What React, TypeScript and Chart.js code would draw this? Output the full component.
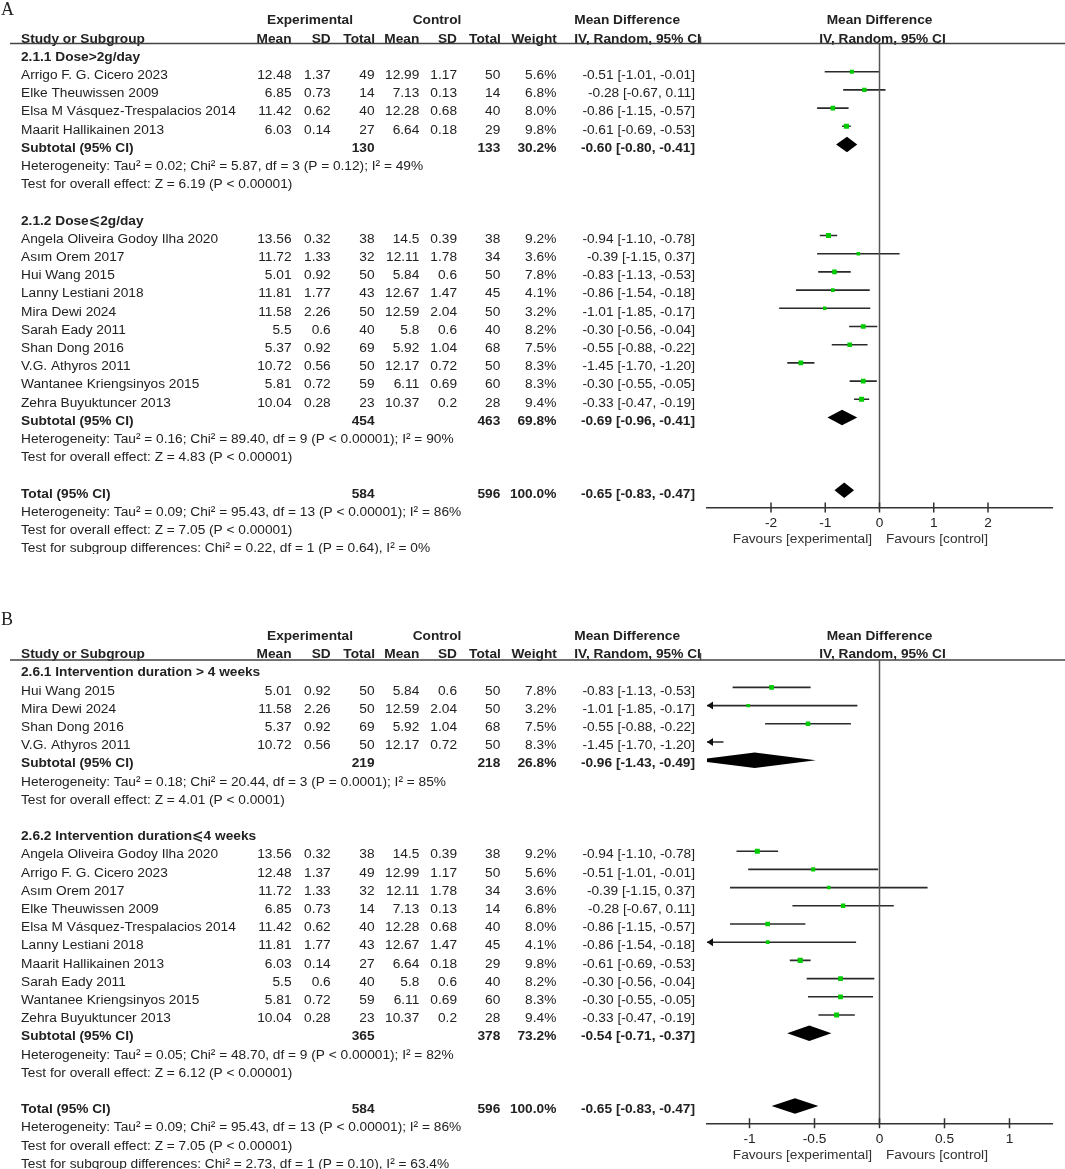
import React, { useEffect, useRef } from 'react';
import { Chart, registerables } from 'chart.js';

Chart.register(...registerables);

// ---------------- Study-level data ----------------
const studyNames = [
  'Angela Oliveira Godoy Ilha 2020',
  'Arrigo F. G. Cicero 2023',
  'Asım Orem 2017',
  'Elke Theuwissen 2009',
  'Elsa M Vásquez-Trespalacios 2014',
  'Hui Wang 2015',
  'Lanny Lestiani 2018',
  'Maarit Hallikainen 2013',
  'Mira Dewi 2024',
  'Sarah Eady 2011',
  'Shan Dong 2016',
  'V.G. Athyros 2011',
  'Wantanee Kriengsinyos 2015',
  'Zehra Buyuktuncer 2013',
];
const expMean = [13.56, 12.48, 11.72, 6.85, 11.42, 5.01, 11.81, 6.03, 11.58, 5.5, 5.37, 10.72, 5.81, 10.04];
const expSD = [0.32, 1.37, 1.33, 0.73, 0.62, 0.92, 1.77, 0.14, 2.26, 0.6, 0.92, 0.56, 0.72, 0.28];
const expTotal = [38, 49, 32, 14, 40, 50, 43, 27, 50, 40, 69, 50, 59, 23];
const ctlMean = [14.5, 12.99, 12.11, 7.13, 12.28, 5.84, 12.67, 6.64, 12.59, 5.8, 5.92, 12.17, 6.11, 10.37];
const ctlSD = [0.39, 1.17, 1.78, 0.13, 0.68, 0.6, 1.47, 0.18, 2.04, 0.6, 1.04, 0.72, 0.69, 0.2];
const ctlTotal = [38, 50, 34, 14, 40, 50, 45, 29, 50, 40, 68, 50, 60, 28];
const weightPct = [9.2, 5.6, 3.6, 6.8, 8.0, 7.8, 4.1, 9.8, 3.2, 8.2, 7.5, 8.3, 8.3, 9.4];
const meanDiff = [-0.94, -0.51, -0.39, -0.28, -0.86, -0.83, -0.86, -0.61, -1.01, -0.30, -0.55, -1.45, -0.30, -0.33];
const ciLower = [-1.10, -1.01, -1.15, -0.67, -1.15, -1.13, -1.54, -0.69, -1.85, -0.56, -0.88, -1.70, -0.55, -0.47];
const ciUpper = [-0.78, -0.01, 0.37, 0.11, -0.57, -0.53, -0.18, -0.53, -0.17, -0.04, -0.22, -1.20, -0.05, -0.19];

// ---------------- Panel A (dose) ----------------
const groupTitlesA = ['2.1.1 Dose>2g/day', '2.1.2 Dose⩽2g/day'];
const groupMembersA = [[1, 3, 4, 7], [0, 2, 5, 6, 8, 9, 10, 11, 12, 13]];
const subExpTotalA = [130, 454];
const subCtlTotalA = [133, 463];
const subWeightA = [30.2, 69.8];
const subMDA = [-0.60, -0.69];
const subLowerA = [-0.80, -0.96];
const subUpperA = [-0.41, -0.41];
const hetA = [
  'Heterogeneity: Tau² = 0.02; Chi² = 5.87, df = 3 (P = 0.12); I² = 49%',
  'Heterogeneity: Tau² = 0.16; Chi² = 89.40, df = 9 (P < 0.00001); I² = 90%',
];
const effectA = ['Test for overall effect: Z = 6.19 (P < 0.00001)', 'Test for overall effect: Z = 4.83 (P < 0.00001)'];
const subgroupTestA = 'Test for subgroup differences: Chi² = 0.22, df = 1 (P = 0.64), I² = 0%';
const tickValuesA = [-2, -1, 0, 1, 2];

// ---------------- Panel B (duration) ----------------
const groupTitlesB = ['2.6.1 Intervention duration > 4 weeks', '2.6.2 Intervention duration⩽4 weeks'];
const groupMembersB = [[5, 8, 10, 11], [0, 1, 2, 3, 4, 6, 7, 9, 12, 13]];
const subExpTotalB = [219, 365];
const subCtlTotalB = [218, 378];
const subWeightB = [26.8, 73.2];
const subMDB = [-0.96, -0.54];
const subLowerB = [-1.43, -0.71];
const subUpperB = [-0.49, -0.37];
const hetB = [
  'Heterogeneity: Tau² = 0.18; Chi² = 20.44, df = 3 (P = 0.0001); I² = 85%',
  'Heterogeneity: Tau² = 0.05; Chi² = 48.70, df = 9 (P < 0.00001); I² = 82%',
];
const effectB = ['Test for overall effect: Z = 4.01 (P < 0.0001)', 'Test for overall effect: Z = 6.12 (P < 0.00001)'];
const subgroupTestB = 'Test for subgroup differences: Chi² = 2.73, df = 1 (P = 0.10), I² = 63.4%';
const tickValuesB = [-1, -0.5, 0, 0.5, 1];

// ---------------- Overall ----------------
const overallExpTotal = 584;
const overallCtlTotal = 596;
const overallWeight = 100.0;
const overallMD = -0.65;
const overallLower = -0.83;
const overallUpper = -0.47;
const overallHet = 'Heterogeneity: Tau² = 0.09; Chi² = 95.43, df = 13 (P < 0.00001); I² = 86%';
const overallEffect = 'Test for overall effect: Z = 7.05 (P < 0.00001)';
const favoursLeft = 'Favours [experimental]';
const favoursRight = 'Favours [control]';

// ---------------- Styling / layout ----------------
const W = 1065;
const ROW_H = 18.2;
const TEXT_DY = 3.5;
const AXIS_BOX = 10;
const FONT = '"Liberation Sans", Arial, "DejaVu Sans", sans-serif';
const FS = 13.7;
const TXT = '#222';
const COL = {
  expMean: 291.5, expSD: 330.7, expN: 374.5, ctlMean: 419.3, ctlSD: 457,
  ctlN: 500.3, weight: 556.3, ci: 695, mdHead: 574.3,
};
const PLOT_LEFT = 707;
const PLOT_RIGHT = 1052;

type Row =
  | { kind: 'group'; text: string }
  | { kind: 'study'; idx: number }
  | { kind: 'pooled'; label: string; n1: number; n2: number; w: number; md: number; lo: number; hi: number }
  | { kind: 'note'; text: string }
  | { kind: 'blank' };

interface PanelCfg {
  letter: string;
  height: number;
  letterY: number;
  headerY: number;
  row0Y: number;
  axisY: number;
  xMin: number;
  xMax: number;
  ticks: number[];
  titles: string[];
  members: number[][];
  subExp: number[];
  subCtl: number[];
  subW: number[];
  subMD: number[];
  subLo: number[];
  subHi: number[];
  het: string[];
  effect: string[];
  subgroup: string;
}

const panelA: PanelCfg = {
  letter: 'A', height: 554, letterY: 10, headerY: 43.5, row0Y: 53.5, axisY: 507.5,
  xMin: -3.18, xMax: 3.18, ticks: tickValuesA,
  titles: groupTitlesA, members: groupMembersA, subExp: subExpTotalA, subCtl: subCtlTotalA,
  subW: subWeightA, subMD: subMDA, subLo: subLowerA, subHi: subUpperA, het: hetA, effect: effectA,
  subgroup: subgroupTestA,
};
const panelB: PanelCfg = {
  letter: 'B', height: 615, letterY: 66, headerY: 106, row0Y: 115.2, axisY: 569.3,
  xMin: -1.327, xMax: 1.327, ticks: tickValuesB,
  titles: groupTitlesB, members: groupMembersB, subExp: subExpTotalB, subCtl: subCtlTotalB,
  subW: subWeightB, subMD: subMDB, subLo: subLowerB, subHi: subUpperB, het: hetB, effect: effectB,
  subgroup: subgroupTestB,
};

function buildRows(p: PanelCfg): Row[] {
  const rows: Row[] = [];
  p.titles.forEach((t, g) => {
    if (g > 0) rows.push({ kind: 'blank' });
    rows.push({ kind: 'group', text: t });
    p.members[g].forEach((idx) => rows.push({ kind: 'study', idx }));
    rows.push({
      kind: 'pooled', label: 'Subtotal (95% CI)', n1: p.subExp[g], n2: p.subCtl[g], w: p.subW[g],
      md: p.subMD[g], lo: p.subLo[g], hi: p.subHi[g],
    });
    rows.push({ kind: 'note', text: p.het[g] });
    rows.push({ kind: 'note', text: p.effect[g] });
  });
  rows.push({ kind: 'blank' });
  rows.push({
    kind: 'pooled', label: 'Total (95% CI)', n1: overallExpTotal, n2: overallCtlTotal, w: overallWeight,
    md: overallMD, lo: overallLower, hi: overallUpper,
  });
  rows.push({ kind: 'note', text: overallHet });
  rows.push({ kind: 'note', text: overallEffect });
  rows.push({ kind: 'note', text: p.subgroup });
  return rows;
}

const ciText = (md: number, lo: number, hi: number) => `${md.toFixed(2)} [${lo.toFixed(2)}, ${hi.toFixed(2)}]`;

function makeChart(canvas: HTMLCanvasElement, p: PanelCfg) {
  const rows = buildRows(p);
  const yMin = (p.headerY - p.row0Y) / ROW_H;
  const yMax = (p.axisY - p.row0Y) / ROW_H;
  const studyRows = rows
    .map((r, i) => ({ r, i }))
    .filter((o) => o.r.kind === 'study') as { r: { kind: 'study'; idx: number }; i: number }[];

  const forestPlugin = {
    id: 'forestMarks',
    beforeDatasetsDraw(chart: any) {
      const { ctx, chartArea: a } = chart;
      const x = chart.scales.x;
      const y = chart.scales.y;
      ctx.save();
      ctx.beginPath();
      ctx.rect(a.left, a.top, a.right - a.left, a.bottom - a.top);
      ctx.clip();
      rows.forEach((row, i) => {
        const py = y.getPixelForValue(i);
        if (row.kind === 'study') {
          const xl = x.getPixelForValue(ciLower[row.idx]);
          const xh = x.getPixelForValue(ciUpper[row.idx]);
          const x1 = Math.max(xl, a.left);
          const x2 = Math.min(xh, a.right);
          ctx.strokeStyle = '#2a2a2a';
          ctx.lineWidth = 1.6;
          ctx.beginPath();
          ctx.moveTo(x1, py);
          ctx.lineTo(x2, py);
          ctx.stroke();
          ctx.fillStyle = '#111';
          if (xl < a.left) {
            ctx.beginPath();
            ctx.moveTo(a.left, py);
            ctx.lineTo(a.left + 6, py - 4);
            ctx.lineTo(a.left + 6, py + 4);
            ctx.closePath();
            ctx.fill();
          }
          if (xh > a.right) {
            ctx.beginPath();
            ctx.moveTo(a.right, py);
            ctx.lineTo(a.right - 6, py - 4);
            ctx.lineTo(a.right - 6, py + 4);
            ctx.closePath();
            ctx.fill();
          }
        } else if (row.kind === 'pooled') {
          const h = 7.8;
          ctx.fillStyle = '#000';
          ctx.beginPath();
          ctx.moveTo(x.getPixelForValue(row.lo), py);
          ctx.lineTo(x.getPixelForValue(row.md), py - h);
          ctx.lineTo(x.getPixelForValue(row.hi), py);
          ctx.lineTo(x.getPixelForValue(row.md), py + h);
          ctx.closePath();
          ctx.fill();
        }
      });
      ctx.restore();
    },
  };

  const tablePlugin = {
    id: 'forestTable',
    afterDraw(chart: any) {
      const { ctx } = chart;
      const x = chart.scales.x;
      const y = chart.scales.y;
      const ty = (r: number) => y.getPixelForValue(r) + TEXT_DY;
      const put = (s: string, px: number, py: number, align: CanvasTextAlign, bold = false) => {
        ctx.font = `${bold ? 'bold ' : ''}${FS}px ${FONT}`;
        ctx.textAlign = align;
        ctx.fillText(s, px, py);
      };
      ctx.save();
      ctx.fillStyle = TXT;
      ctx.textBaseline = 'middle';
      // panel letter
      ctx.font = `18px "Liberation Serif", "Times New Roman", serif`;
      ctx.textAlign = 'left';
      ctx.fillText(p.letter, 1, p.letterY);
      // header
      const h1 = ty(-2);
      const h2 = ty(-1);
      put('Experimental', 310, h1, 'center', true);
      put('Control', 437, h1, 'center', true);
      put('Mean Difference', COL.mdHead, h1, 'left', true);
      put('Mean Difference', (PLOT_LEFT + PLOT_RIGHT) / 2, h1, 'center', true);
      put('Study or Subgroup', 21, h2, 'left', true);
      put('Mean', COL.expMean, h2, 'right', true);
      put('SD', COL.expSD, h2, 'right', true);
      put('Total', COL.expN + 0.5, h2, 'right', true);
      put('Mean', COL.ctlMean, h2, 'right', true);
      put('SD', COL.ctlSD, h2, 'right', true);
      put('Total', COL.ctlN + 0.5, h2, 'right', true);
      put('Weight', COL.weight + 0.5, h2, 'right', true);
      put('IV, Random, 95% CI', COL.mdHead, h2, 'left', true);
      put('IV, Random, 95% CI', (PLOT_LEFT + PLOT_RIGHT) / 2 + 3, h2, 'center', true);
      ctx.strokeStyle = '#444';
      ctx.lineWidth = 1.5;
      ctx.beginPath();
      ctx.moveTo(10, p.headerY);
      ctx.lineTo(W, p.headerY);
      ctx.moveTo(700.5, p.headerY - 7);
      ctx.lineTo(700.5, p.headerY);
      ctx.stroke();
      // rows
      rows.forEach((row, i) => {
        const py = ty(i);
        if (row.kind === 'group') put(row.text, 21, py, 'left', true);
        else if (row.kind === 'note') put(row.text, 21, py, 'left');
        else if (row.kind === 'study') {
          const k = row.idx;
          put(studyNames[k], 21, py, 'left');
          put(String(expMean[k]), COL.expMean, py, 'right');
          put(String(expSD[k]), COL.expSD, py, 'right');
          put(String(expTotal[k]), COL.expN, py, 'right');
          put(String(ctlMean[k]), COL.ctlMean, py, 'right');
          put(String(ctlSD[k]), COL.ctlSD, py, 'right');
          put(String(ctlTotal[k]), COL.ctlN, py, 'right');
          put(weightPct[k].toFixed(1) + '%', COL.weight, py, 'right');
          put(ciText(meanDiff[k], ciLower[k], ciUpper[k]), COL.ci, py, 'right');
        } else if (row.kind === 'pooled') {
          put(row.label, 21, py, 'left', true);
          put(String(row.n1), COL.expN, py, 'right', true);
          put(String(row.n2), COL.ctlN, py, 'right', true);
          put(row.w.toFixed(1) + '%', COL.weight, py, 'right', true);
          put(ciText(row.md, row.lo, row.hi), COL.ci, py, 'right', true);
        }
      });
      // tick marks crossing the axis, with their labels
      ctx.strokeStyle = '#333';
      ctx.lineWidth = 1.5;
      ctx.beginPath();
      p.ticks.forEach((v) => {
        const px = x.getPixelForValue(v);
        ctx.moveTo(px, p.axisY - 5);
        ctx.lineTo(px, p.axisY + 5);
      });
      ctx.stroke();
      ctx.fillStyle = TXT;
      p.ticks.forEach((v) => {
        put(String(v), x.getPixelForValue(v), p.axisY + 16, 'center');
      });
      // favours labels
      ctx.fillStyle = '#333';
      const zx = x.getPixelForValue(0);
      put(favoursLeft, zx - 7.5, p.axisY + 32, 'right');
      put(favoursRight, zx + 6.5, p.axisY + 32, 'left');
      ctx.restore();
    },
  };

  return new Chart(canvas, {
    type: 'scatter',
    data: {
      datasets: [
        {
          type: 'line',
          data: [{ x: 0, y: yMin }, { x: 0, y: yMax }],
          borderColor: '#555',
          borderWidth: 1.5,
          pointRadius: 0,
          order: 2,
        } as any,
        {
          data: studyRows.map((o) => ({ x: meanDiff[o.r.idx], y: o.i })),
          pointStyle: 'rect',
          pointRadius: studyRows.map((o) => (2.6 + 0.26 * weightPct[o.r.idx]) / Math.SQRT2),
          backgroundColor: '#00cc00',
          borderWidth: 0,
          order: 0,
        },
      ],
    },
    options: {
      animation: false,
      responsive: false,
      events: [],
      layout: {
        padding: { left: PLOT_LEFT, right: W - PLOT_RIGHT, top: p.headerY, bottom: p.height - p.axisY - AXIS_BOX },
      },
      plugins: { legend: { display: false }, tooltip: { enabled: false } },
      scales: {
        x: {
          type: 'linear',
          min: p.xMin,
          max: p.xMax,
          afterBuildTicks: (s: any) => {
            s.ticks = p.ticks.map((v) => ({ value: v }));
          },
          afterFit: (s: any) => {
            s.height = AXIS_BOX;
          },
          ticks: { display: false },
          grid: { drawOnChartArea: false, drawTicks: false },
          border: { display: true, color: '#333', width: 1.5 },
        },
        y: { type: 'linear', display: false, reverse: true, min: yMin, max: yMax },
      },
    },
    plugins: [forestPlugin, tablePlugin],
  } as any);
}

function Panel({ cfg, top }: { cfg: PanelCfg; top: number }) {
  const ref = useRef<HTMLCanvasElement>(null);
  useEffect(() => {
    const chart = makeChart(ref.current as HTMLCanvasElement, cfg);
    return () => chart.destroy();
  }, [cfg]);
  return (
    <canvas
      ref={ref}
      width={W}
      height={cfg.height}
      style={{ position: 'absolute', left: 0, top, width: W, height: cfg.height, display: 'block' }}
    />
  );
}

export default function App() {
  return (
    <div style={{ position: 'absolute', left: 0, top: 0, width: W, height: 1169, background: '#fff', overflow: 'hidden' }}>
      <Panel cfg={panelA} top={0} />
      <Panel cfg={panelB} top={554} />
    </div>
  );
}
